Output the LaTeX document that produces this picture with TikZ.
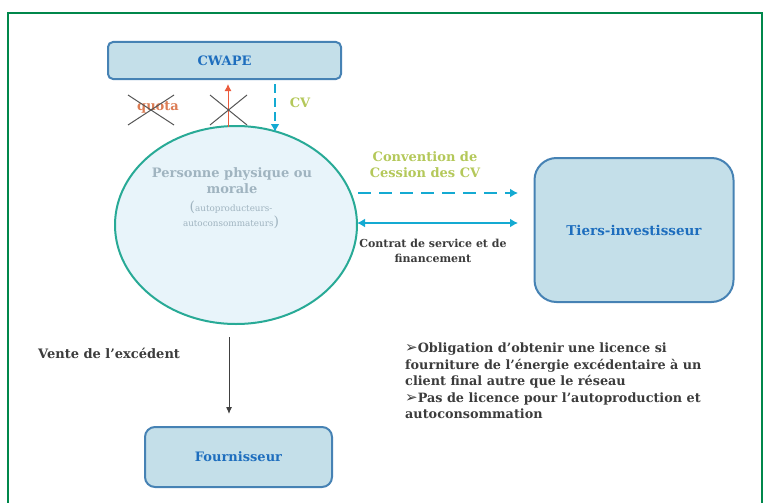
\documentclass[tikz,border=0pt]{standalone}
\usepackage{fontspec}
\setmainfont{DejaVu Serif}
\newfontfamily\symfont{DejaVu Sans}
\usetikzlibrary{arrows.meta,shapes.geometric}
\definecolor{framegreen}{RGB}{0,135,75}
\definecolor{boxfill}{RGB}{196,223,233}
\definecolor{boxdraw}{RGB}{70,130,180}
\definecolor{boxtext}{RGB}{30,110,190}
\definecolor{ellfill}{RGB}{232,244,250}
\definecolor{elldraw}{RGB}{40,170,150}
\definecolor{elltext}{RGB}{160,180,192}
\definecolor{cyanarrow}{RGB}{20,170,210}
\definecolor{redarrow}{RGB}{235,90,60}
\definecolor{quotacol}{RGB}{220,125,85}
\definecolor{cvgreen}{RGB}{180,200,90}
\definecolor{darktext}{RGB}{60,60,60}
\definecolor{crossgray}{RGB}{85,85,85}
\tikzset{
  actor/.style={draw=boxdraw, fill=boxfill, line width=2pt, text=boxtext, font=\fontsize{13}{15}\selectfont\bfseries},
  cross/.style={draw=crossgray, line width=1pt},
  cyanline/.style={draw=cyanarrow, line width=2pt, -{Latex[length=8pt,width=9pt]}},
  lbl/.style={inner sep=0pt, text=darktext},
}
\begin{document}
\begin{tikzpicture}[x=1pt,y=-1pt]
\useasboundingbox (0,0) rectangle (768,503);
% frame
\draw[framegreen, line width=2.5pt] (8,503) -- (8,13) -- (762,13) -- (762,503);

% nodes
\node[actor, rounded corners=5pt, minimum width=233pt, minimum height=37pt] (cwape) at (224.5,60.5) {CWAPE};
\node[actor, rounded corners=22pt, minimum width=199pt, minimum height=144pt, font=\fontsize{13.5}{15}\selectfont\bfseries] (tiers) at (634,230) {Tiers-investisseur};
\node[actor, rounded corners=10pt, minimum width=187pt, minimum height=60pt] (four) at (238.5,457) {Fournisseur};
\node[ellipse, draw=elldraw, fill=ellfill, line width=2pt, minimum width=242pt, minimum height=198pt, inner sep=0pt] (p) at (236,225) {};

\node[lbl, text=elltext, align=center, font=\fontsize{13}{16}\selectfont\bfseries] (ptxt) at (232,181) {Personne physique ou\\morale};
\node[lbl, text=elltext, align=center, font=\fontsize{8.8}{15}\selectfont] (ptxt2) at (231,215) {{\fontsize{14}{15}\selectfont(}autoproducteurs-\\autoconsommateurs{\fontsize{14}{15}\selectfont)}};

% CWAPE links
\coordinate (rA) at (228,127);
\coordinate (rB) at (228,84);
\draw[redarrow, line width=1pt, -{Latex[length=7pt,width=7pt]}] (rA) -- (rB);
\draw[cross] (210,95) -- (247,125);
\draw[cross] (210,125) -- (247,95);

\node[lbl, text=quotacol, font=\fontsize{13}{15}\selectfont\bfseries] (quota) at (158,107) {quota};
\draw[cross] (128,95) -- (174,125);
\draw[cross] (128,125) -- (174,95);

\coordinate (cvA) at (275,84);
\coordinate (cvB) at (275,132);
\draw[cyanline, dash pattern=on 9pt off 5pt] (cvA) -- (cvB);
\node[lbl, text=cvgreen, font=\fontsize{13}{15}\selectfont\bfseries] (cvl) at (300,103) {CV};

% Tiers links
\coordinate (convA) at (358,193);
\coordinate (convB) at (518,193);
\draw[cyanline, dash pattern=on 13pt off 8pt] (convA) -- (convB);
\node[lbl, text=cvgreen, align=center, font=\fontsize{13}{16}\selectfont\bfseries] (convl) at (425,165) {Convention de\\Cession des CV};

\coordinate (ctA) at (357,223);
\coordinate (ctB) at (518,223);
\draw[cyanline, {Latex[length=8pt,width=9pt]}-{Latex[length=8pt,width=9pt]}] (ctA) -- (ctB);
\node[lbl, align=center, font=\fontsize{11}{15}\selectfont\bfseries] (ctl) at (433,250.5) {Contrat de service et de\\financement};

% Fournisseur link
\coordinate (vA) at (229,337);
\coordinate (vB) at (229,414);
\draw[black!75, line width=1pt, -{Latex[length=7pt,width=6pt]}] (vA) -- (vB);
\node[lbl, anchor=west, font=\fontsize{13}{15}\selectfont\bfseries] (vente) at (38,353) {Vente de l’excédent};

% notes
\node[lbl, anchor=north west, align=left, font=\fontsize{12.8}{16.4}\selectfont\bfseries] (notes) at (405,343)
{{\symfont\fontsize{15}{16}\selectfont ➢}Obligation d’obtenir une licence si\\fourniture de l’énergie excédentaire à un\\client final autre que le réseau\\{\symfont\fontsize{15}{16}\selectfont ➢}Pas de licence pour l’autoproduction et\\autoconsommation};
\end{tikzpicture}
\end{document}
